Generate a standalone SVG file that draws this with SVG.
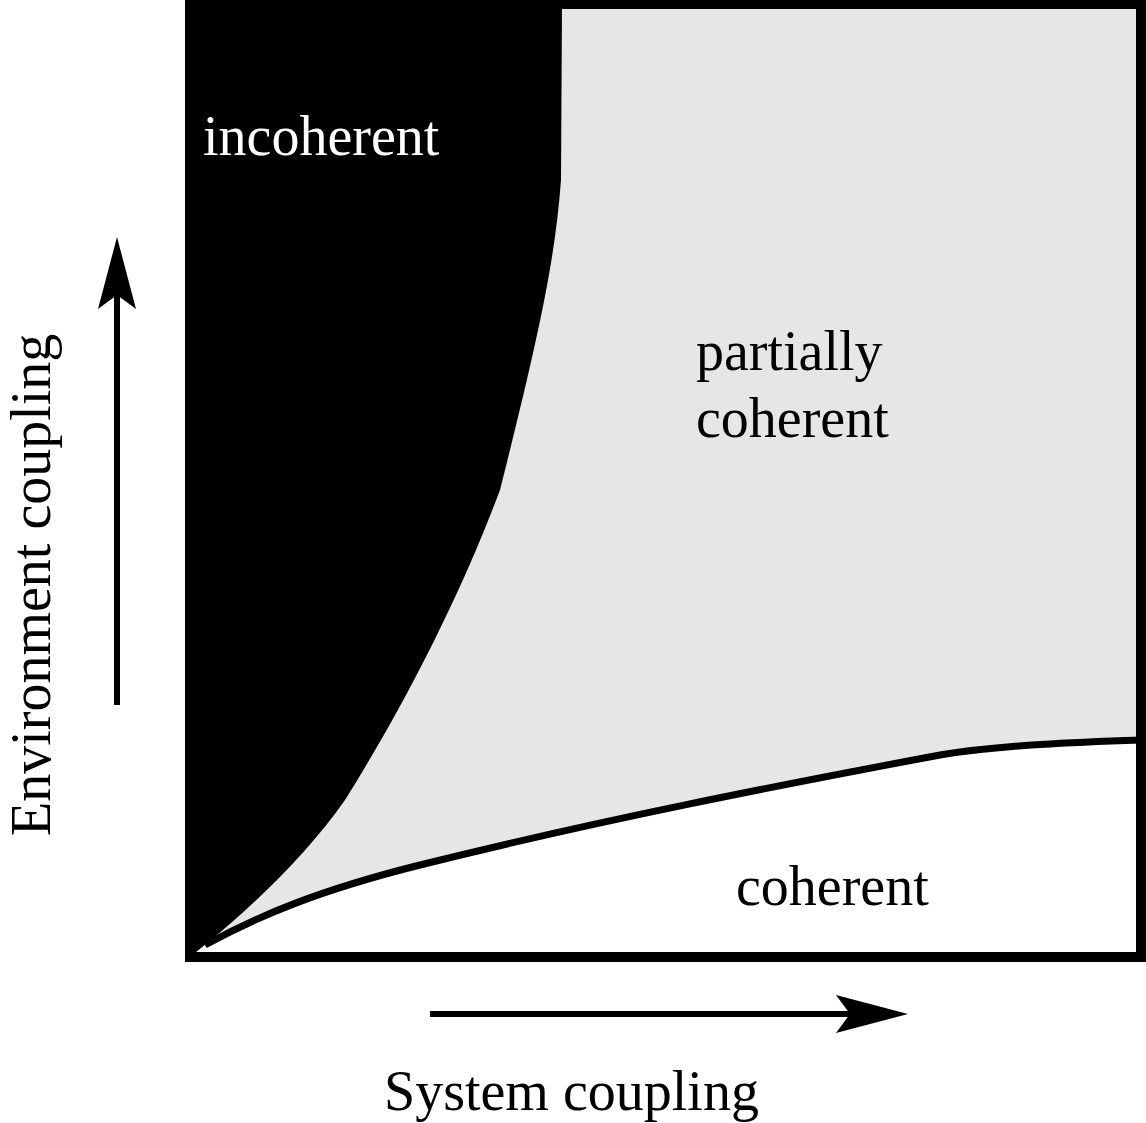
<svg xmlns="http://www.w3.org/2000/svg" width="1146" height="1123" viewBox="0 0 1146 1123">
<style>
text{font-family:"Liberation Serif","Times New Roman",serif;font-size:56px;fill:#000}
</style>
<rect width="1146" height="1123" fill="#fff"/>
<g id="regions">
<rect x="190" y="4" width="951" height="953" fill="#e6e6e6"/>
<path d="M190,4 L562,4 L561,180 C555,260 540,330 500,490 C470,570 420,680 345,800 C310,850 260,900 205,945 L190,957 Z" fill="#000"/>
<path d="M205,945 C260,915 320,890 420,865 C600,820 780,785 940,755 C1000,745 1080,742 1141,740 L1141,957 L190,957 Z" fill="#fff"/>
<path d="M205,945 C260,915 320,890 420,865 C600,820 780,785 940,755 C1000,745 1080,742 1141,740" fill="none" stroke="#000" stroke-width="7"/>
<rect x="190" y="4" width="951" height="953" fill="none" stroke="#000" stroke-width="10"/>
</g>
<g id="labels">
<text x="203" y="155" fill="#fff" style="fill:#fff">incoherent</text>
<text x="696" y="370">partially</text>
<text x="696" y="437">coherent</text>
<text x="736" y="905">coherent</text>
<text x="384" y="1110">System coupling</text>
<text transform="translate(50,836) rotate(-90)">Environment coupling</text>
</g>
<g id="connectors">
<line x1="430" y1="1014" x2="880" y2="1014" stroke="#000" stroke-width="6"/>
<path d="M908,1014 L836,995 L850,1014 L836,1033 Z" fill="#000"/>
<line x1="117" y1="705" x2="117" y2="265" stroke="#000" stroke-width="6"/>
<path d="M117,237 L98,309 L117,295 L136,309 Z" fill="#000"/>
</g>
</svg>
